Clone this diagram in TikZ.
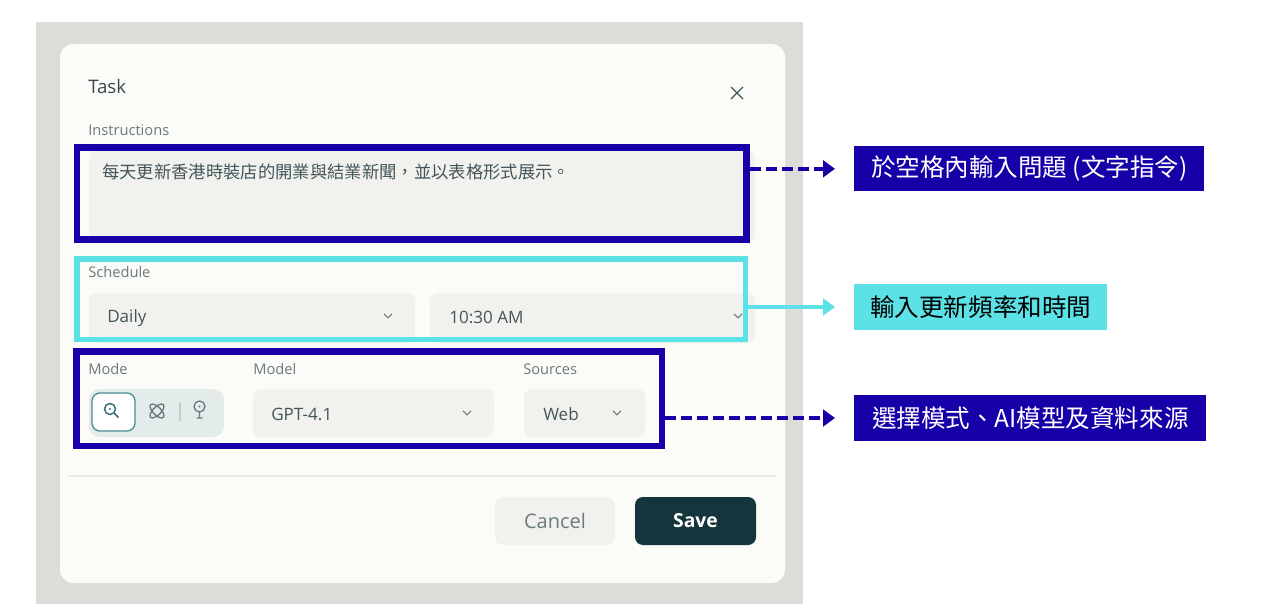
\documentclass[tikz,border=0pt]{standalone}
\usepackage{fontspec}
\setmainfont{Open Sans}
\newfontfamily\cjk{Noto Sans CJK TC}
\usetikzlibrary{arrows.meta}

\definecolor{hiblue}{HTML}{1800A8}
\definecolor{hicyan}{HTML}{5CE1E6}
\definecolor{backdrop}{HTML}{DCDDD9}
\definecolor{panel}{HTML}{FBFCF8}
\definecolor{fieldgrey}{HTML}{F1F2EE}
\definecolor{rulegrey}{HTML}{E9EAE6}
\definecolor{inktext}{HTML}{44555A}
\definecolor{capgrey}{HTML}{6A7A7D}
\definecolor{savegreen}{HTML}{14353B}
\definecolor{modefill}{HTML}{E4ECEB}
\definecolor{modeedge}{HTML}{4A8C92}

\tikzset{
  hibox/.style={draw=hiblue, line width=4.9pt, inner sep=0pt},
  cyanbox/.style={draw=hicyan, line width=3.8pt, inner sep=0pt},
  tag/.style={anchor=west, fill=hiblue, text=white, font=\cjk\fontsize{18.4}{20}\selectfont, inner xsep=0pt, minimum height=34pt},
  caption/.style={anchor=west, inner sep=0pt, text=capgrey, font=\fontsize{11}{13}\selectfont},
  entry/.style={anchor=west, inner sep=0pt, text=inktext, font=\fontsize{12.8}{15}\selectfont},
  field/.style={fill=fieldgrey, rounded corners=6pt},
  pointer/.style={line width=2.6pt, shorten >=14.25pt, -{Triangle[length=9pt,width=12.5pt]}},
  chevron/.pic={\draw[capgrey, line width=0.8pt] (-4,-2.2) -- (0,1.8) -- (4,-2.2);}
}

\begin{document}
\begin{tikzpicture}[x=0.75pt, y=-0.75pt]
  \useasboundingbox[fill=white] (0,0) rectangle (1280,616);
  % screenshot
  \fill[backdrop] (36,22) rectangle (803,604);
  \fill[panel, rounded corners=10pt] (60,44) rectangle (785,583);

  % header
  \node[anchor=west, inner sep=0pt, text=inktext!85!black, font=\fontsize{14}{16}\selectfont] (title) at (88,87) {Task};
  \draw[inktext, line width=1pt] (731,87) -- (743,99) (743,87) -- (731,99); % close

  % instructions
  \node[caption] (instrCap) at (88,130) {Instructions};
  \fill[field] (89,150) rectangle (755,243);
  \node[entry, font=\cjk\fontsize{13}{15}\selectfont] (instrText) at (102,172) {每天更新香港時裝店的開業與結業新聞，並以表格形式展示。};
  \node[hibox, minimum width=502.3pt, minimum height=69pt] (instrBox) at (411.85,193.5) {};

  % schedule
  \node[caption] (schedCap) at (88,272) {Schedule};
  \fill[field] (89,293) rectangle (415,343);
  \fill[field] (430,293) rectangle (755,343);
  \node[entry] (daily) at (107,318.5) {Daily};
  \pic at (388,316) {chevron};
  \node[entry] (clock) at (449,317.5) {10:30 AM};
  \pic at (738,316) {chevron};
  \node[cyanbox, minimum width=501.4pt, minimum height=60.4pt] (schedBox) at (411.25,299.25) {};

  % mode, model, sources
  \node[caption] (modeCap) at (88,369) {Mode};
  \node[caption] (modelCap) at (253,369) {Model};
  \node[caption] (srcCap) at (523,369) {Sources};
  \fill[modefill, rounded corners=8pt] (89,389) rectangle (224,437);
  \draw[modeedge, fill=white, line width=1pt, rounded corners=6pt] (92,393) rectangle (135,431);
  \draw[modeedge!80!black, line width=1.1pt] (110,409) circle[radius=5.5] (114,413) -- (118.5,417.5); % search
  \fill[modeedge!80!black] (110,409) circle[radius=1.2];
  \draw[capgrey, line width=1pt, rotate around={45:(157,411)}] (157,411) ellipse[x radius=9, y radius=4]; % pretzel
  \draw[capgrey, line width=1pt, rotate around={-45:(157,411)}] (157,411) ellipse[x radius=9, y radius=4];
  \draw[capgrey!40, line width=0.8pt] (180,402) -- (180,421);
  \draw[capgrey, line width=1pt] (199.5,406.5) circle[radius=5.5] (199.5,412) -- (199.5,418) (196.5,418) -- (202.5,418); % bulb
  \fill[capgrey] (199.5,406.5) circle[radius=1.2];
  \fill[field] (253,389) rectangle (494,437);
  \node[entry] (model) at (271,414) {GPT-4.1};
  \pic at (467,413) {chevron};
  \fill[field] (524,389) rectangle (645,437);
  \node[entry] (web) at (543,414) {Web};
  \pic at (617,413) {chevron};
  \node[hibox, minimum width=439pt, minimum height=70.7pt] (modeBox) at (369.35,398.85) {};

  % footer
  \draw[rulegrey, line width=1pt] (69,476) -- (776,476);
  \fill[field] (495,497) rectangle (615,545);
  \node[text=capgrey, font=\fontsize{15}{17}\selectfont] (cancel) at (555,521) {Cancel};
  \fill[savegreen, rounded corners=6pt] (635,497) rectangle (756,545);
  \node[text=white, font=\bfseries\fontsize{14.5}{17}\selectfont] (save) at (695.5,521) {Save};

  % labels
  \node[tag, minimum width=262.5pt] (tagText) at (854,168.8) {於空格內輸入問題 (文字指令)};
  \node[tag, minimum width=189.75pt, fill=hicyan, text=black] (tagTime) at (854,307) {輸入更新頻率和時間};
  \node[tag, minimum width=264pt] (tagSource) at (854,418) {選擇模式、AI模型及資料來源};

  % pointers
  \draw[pointer, hiblue, dash pattern=on 8.25pt off 3.75pt] (instrBox.east |- tagText.west) -- (tagText.west);
  \draw[pointer, hicyan] (schedBox.east |- tagTime.west) -- (tagTime.west);
  \draw[pointer, hiblue, dash pattern=on 8.25pt off 3.75pt] (modeBox.east |- tagSource.west) -- (tagSource.west);
\end{tikzpicture}
\end{document}
